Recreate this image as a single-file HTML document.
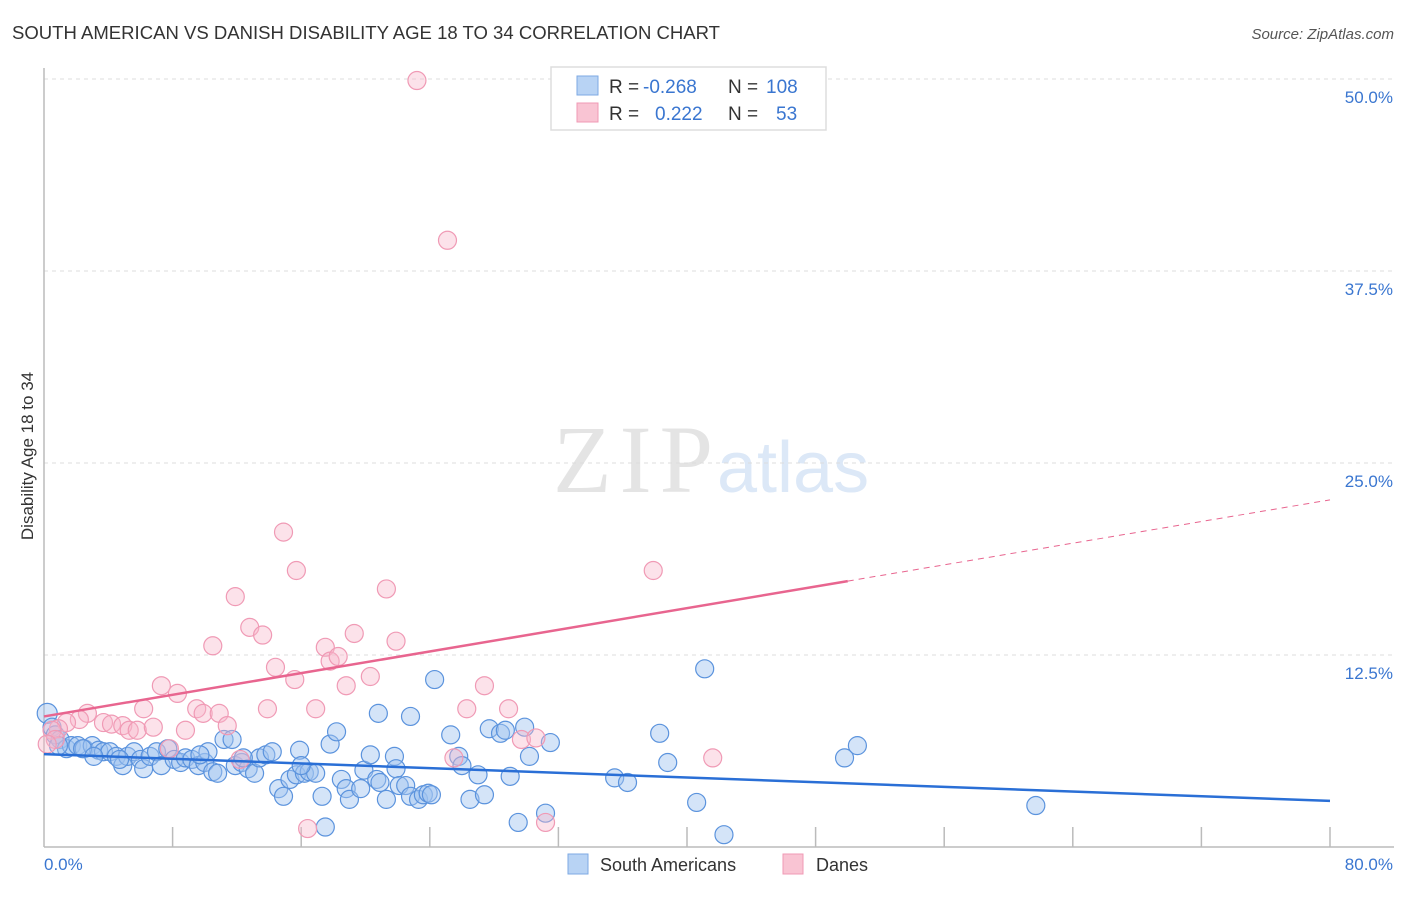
<!DOCTYPE html>
<html><head><meta charset="utf-8">
<style>
body{margin:0;background:#fff;width:1406px;height:892px;overflow:hidden;font-family:"Liberation Sans",sans-serif;}
svg text{font-family:"Liberation Sans",sans-serif;}
</style></head>
<body>
<svg id="chart" width="1406" height="892" xmlns="http://www.w3.org/2000/svg">
<text x="12" y="39" font-size="18" fill="#333" textLength="708" lengthAdjust="spacingAndGlyphs">SOUTH AMERICAN VS DANISH DISABILITY AGE 18 TO 34 CORRELATION CHART</text>
<text x="1394" y="39" font-size="15" fill="#555" font-style="italic" text-anchor="end">Source: ZipAtlas.com</text>
<g>
<text x="553" y="492" font-size="96" fill="#e4e4e4" style="font-family:'Liberation Serif',serif" textLength="160">ZIP</text>
<text x="717" y="492" font-size="72" fill="#dce8f7">atlas</text>
</g>
<g id="grid"></g>
<g id="axes"></g>
<g id="marks"></g>
<text transform="translate(33,456) rotate(-90)" font-size="17" fill="#333" text-anchor="middle">Disability Age 18 to 34</text>
<g>
<rect x="551" y="67" width="275" height="63" fill="#fff" stroke="#ddd" stroke-width="1.5"/>
<rect x="577" y="76" width="21" height="19" fill="#b8d3f4" stroke="#7ea9e3"/>
<rect x="577" y="103" width="21" height="19" fill="#f9c4d3" stroke="#f09ab5"/>
<text x="609" y="93" font-size="19" fill="#333">R = </text><text x="643" y="93" font-size="19" fill="#3a76d0">-0.268</text>
<text x="728" y="93" font-size="19" fill="#333">N = </text><text x="766" y="93" font-size="19" fill="#3a76d0">108</text>
<text x="609" y="120" font-size="19" fill="#333">R = </text><text x="655" y="120" font-size="19" fill="#3a76d0">0.222</text>
<text x="728" y="120" font-size="19" fill="#333">N = </text><text x="776" y="120" font-size="19" fill="#3a76d0">53</text>
</g>
<g>
<rect x="568" y="854" width="20" height="20" fill="#b8d3f4" stroke="#7ea9e3"/>
<text x="600" y="871" font-size="18" fill="#333">South Americans</text>
<rect x="783" y="854" width="20" height="20" fill="#f9c4d3" stroke="#f09ab5"/>
<text x="816" y="871" font-size="18" fill="#333">Danes</text>
</g>
</svg>
<script>
const yTicks=[12.5,25,37.5,50];
const yTickLabels=["12.5%","25.0%","37.5%","50.0%"];
const xTicks=[8,16,24,32,40,48,56,64,72,80];
const blueX=[0.2,0.5,0.7,1.0,1.4,1.7,2.1,2.5,3.0,3.4,3.7,4.1,4.5,4.9,5.2,5.6,6.0,6.2,6.6,7.0,7.3,7.7,8.1,8.5,8.8,9.2,9.6,10.0,10.2,10.5,10.8,11.2,11.7,11.9,12.3,12.7,13.1,13.4,13.8,14.2,14.6,14.9,15.3,15.7,15.9,16.2,16.5,16.9,17.3,17.5,17.8,18.2,18.5,18.8,19.0,19.7,19.9,20.3,20.7,20.9,21.3,21.8,21.9,22.1,22.5,22.8,23.3,23.6,23.9,24.1,24.3,22.8,20.8,25.3,25.8,26.0,26.5,27.0,27.4,27.7,28.4,28.7,29.0,29.5,29.9,30.2,31.2,31.5,35.5,36.3,38.3,38.8,40.6,41.1,42.3,49.8,50.6,61.7,2.4,3.1,0.9,4.7,9.7,12.4,16.0];
const blueY=[8.7,7.8,7.3,7.0,6.4,6.6,6.6,6.4,6.6,6.3,6.2,6.2,5.9,5.3,5.9,6.2,5.7,5.1,5.9,6.2,5.3,6.4,5.7,5.5,5.8,5.7,5.3,5.5,6.2,4.9,4.8,7.0,7.0,5.3,5.5,5.1,4.8,5.8,6.0,6.2,3.8,3.3,4.4,4.7,6.3,4.8,4.9,4.8,3.3,1.3,6.7,7.5,4.4,3.8,3.1,3.8,5.0,6.0,4.4,4.2,3.1,5.9,5.1,4.0,4.0,3.3,3.1,3.4,3.5,3.4,10.9,8.5,8.7,7.3,5.9,5.3,3.1,4.7,3.4,7.7,7.4,7.6,4.6,1.6,7.8,5.9,2.2,6.8,4.5,4.2,7.4,5.5,2.9,11.6,0.8,5.8,6.6,2.7,6.4,5.9,6.6,5.7,6.0,5.8,5.3];
const pinkX=[23.2,25.1,14.9,15.7,11.9,21.3,37.9,12.8,13.6,17.5,19.3,21.9,10.5,17.8,18.3,14.4,15.6,20.3,18.8,7.3,8.3,27.4,9.5,9.9,10.9,13.9,16.9,26.3,28.9,6.2,2.7,2.2,1.4,0.9,3.7,4.2,4.9,5.3,5.8,6.8,8.8,11.4,0.5,0.7,7.8,12.2,25.5,29.7,30.6,41.6,16.4,31.2,0.2];
const pinkY=[49.9,39.5,20.5,18.0,16.3,16.8,18.0,14.3,13.8,13.0,13.9,13.4,13.1,12.1,12.4,11.7,10.9,11.1,10.5,10.5,10.0,10.5,9.0,8.7,8.7,9.0,9.0,9.0,9.0,9.0,8.7,8.3,8.1,7.7,8.1,8.0,7.9,7.6,7.6,7.8,7.6,7.9,7.6,7.0,6.4,5.7,5.8,7.0,7.1,5.8,1.2,1.6,6.7];
const blueTrend=[6.05,3.0];   // y at x=0 and x=80
const pinkTrend=[8.5,22.6];   // y at x=0 and x=80
const pinkSolidEnd=50;
const NS="http://www.w3.org/2000/svg";
const X0=44,X1=1330,Y0=847,Y50=79;
const sx=v=>X0+(X1-X0)*v/80;
const sy=v=>Y0-(Y0-Y50)*v/50;
function mk(tag,attrs,parent){const e=document.createElementNS(NS,tag);for(const k in attrs)e.setAttribute(k,attrs[k]);parent.appendChild(e);return e;}
const grid=document.getElementById('grid'),axes=document.getElementById('axes'),marks=document.getElementById('marks');
yTicks.forEach((t,i)=>{
  const l=mk('line',{x1:X0,x2:1394,y1:sy(t),y2:sy(t),stroke:'#ddd','stroke-dasharray':'4,4'},grid);
  
  
  const tx=mk('text',{x:1393,y:sy(t)+24,'font-size':17,fill:'#3a76d0','text-anchor':'end'},axes);
  tx.textContent=yTickLabels[i];
  
  
});
const ya=mk('line',{x1:X0,x2:X0,y1:68,y2:Y0,stroke:'#bbb','stroke-width':1.5},axes);


const xa=mk('line',{x1:X0,x2:1394,y1:Y0,y2:Y0,stroke:'#bbb','stroke-width':1.5},axes);


xTicks.forEach(t=>{
  const l=mk('line',{x1:sx(t),x2:sx(t),y1:827,y2:Y0,stroke:'#bbb','stroke-width':1.5},axes);
  
  
});
const xl0=mk('text',{x:44,y:870,'font-size':17,fill:'#3a76d0'},axes);xl0.textContent='0.0%';


const xl1=mk('text',{x:1393,y:870,'font-size':17,fill:'#3a76d0','text-anchor':'end'},axes);xl1.textContent='80.0%';


blueX.forEach((x,i)=>{
  const c=mk('circle',{cx:sx(x),cy:sy(blueY[i]),r:i===0?10:9,fill:'rgba(160,196,240,0.45)',stroke:'#5b93dd','stroke-width':1.2},marks);
  
  
});
pinkX.forEach((x,i)=>{
  const c=mk('circle',{cx:sx(x),cy:sy(pinkY[i]),r:9,fill:'rgba(248,182,202,0.4)',stroke:'#f09ab5','stroke-width':1.2},marks);
  
  
});
const bt=mk('line',{x1:sx(0),y1:sy(blueTrend[0]),x2:sx(80),y2:sy(blueTrend[1]),stroke:'#2a6fd6','stroke-width':2.5},marks);


const pAt=x=>pinkTrend[0]+(pinkTrend[1]-pinkTrend[0])*x/80;
const pt=mk('line',{x1:sx(0),y1:sy(pAt(0)),x2:sx(pinkSolidEnd),y2:sy(pAt(pinkSolidEnd)),stroke:'#e8658f','stroke-width':2.5},marks);


const pd=mk('line',{x1:sx(pinkSolidEnd),y1:sy(pAt(pinkSolidEnd)),x2:sx(80),y2:sy(pAt(80)),stroke:'#e8658f','stroke-width':1,'stroke-dasharray':'6,5'},marks);


</script>
</body></html>
